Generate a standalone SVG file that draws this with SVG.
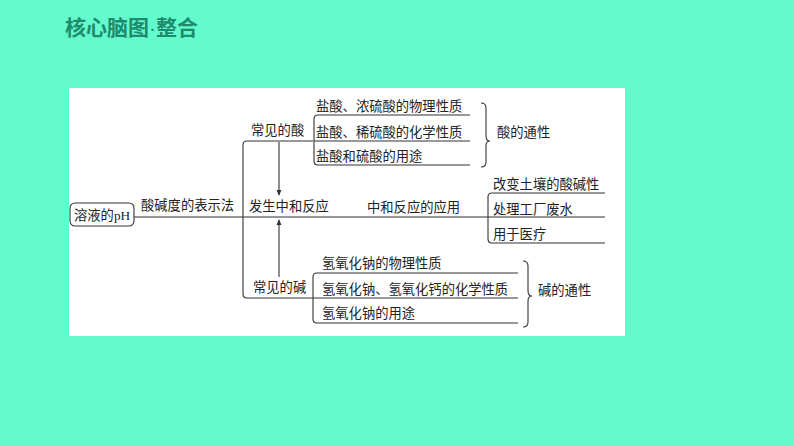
<svg xmlns="http://www.w3.org/2000/svg" width="794" height="446" viewBox="0 0 794 446">
<style>
.t{font-family:"Noto Sans CJK SC","Liberation Serif",serif;font-size:13.3px;fill:#222}
.ln{fill:none;stroke:#333;stroke-width:1.1}
.title{font-family:"Noto Sans CJK SC",sans-serif;font-size:21px;font-weight:bold;fill:#1F8B6E}
</style>
<defs>
<marker id="ah" viewBox="0 0 8 8" refX="7" refY="4" markerWidth="6" markerHeight="6" orient="auto" markerUnits="userSpaceOnUse">
<path d="M0,0.5 L8,4 L0,7.5 Z" fill="#333"/>
</marker>
</defs>
<rect width="794" height="446" fill="#63FBCB"/>
<text class="title" x="65" y="35">核心脑图<tspan font-family="Liberation Sans" font-weight="normal">·</tspan>整合</text>
<rect x="69" y="88" width="556" height="248" fill="#fff"/>

<g id="connectors">
<path class="ln" d="M134 217 H488"/>
<path class="ln" d="M313 141 H247 Q243 141 243 145 V294 Q243 298 247 298 H313"/>
<path class="ln" d="M470 115 H318 Q314 115 314 119 V161 Q314 165 318 165 H470 M314 141 H470"/>
<path class="ln" d="M481 103 Q486 103 486 108 V136 Q486 141 490 141 Q486 141 486 146 V162 Q486 167 481 167"/>
<path class="ln" d="M605 193 H492 Q488 193 488 197 V239 Q488 243 492 243 H605 M488 217 H605"/>
<path class="ln" d="M518 273 H317 Q313 273 313 277 V319 Q313 323 317 323 H518 M313 298 H518"/>
<path class="ln" d="M523 261 Q528 261 528 266 V291 Q528 296 532 296 Q528 296 528 301 V322 Q528 327 523 327"/>
<path class="ln" d="M279 142 V195" marker-end="url(#ah)"/>
<path class="ln" d="M279 277 V220" marker-end="url(#ah)"/>
</g>

<g id="root">
<rect x="70" y="203" width="64" height="23" rx="5" fill="#fff" stroke="#333" stroke-width="1.1"/>
<text class="t" x="74" y="219.5">溶液的<tspan font-family="Liberation Serif">pH</tspan></text>
</g>
<g id="n-biaoshi"><text class="t" x="141" y="210">酸碱度的表示法</text></g>
<g id="n-acid"><text class="t" x="251" y="135">常见的酸</text></g>
<g id="n-zhonghe"><text class="t" x="249" y="211">发生中和反应</text></g>
<g id="n-base"><text class="t" x="253" y="292">常见的碱</text></g>
<g id="n-acid1"><text class="t" x="316" y="111">盐酸、浓硫酸的物理性质</text></g>
<g id="n-acid2"><text class="t" x="316" y="137">盐酸、稀硫酸的化学性质</text></g>
<g id="n-acid3"><text class="t" x="316" y="161">盐酸和硫酸的用途</text></g>
<g id="n-acidgen"><text class="t" x="497" y="137">酸的通性</text></g>
<g id="n-app"><text class="t" x="367" y="212">中和反应的应用</text></g>
<g id="n-app1"><text class="t" x="493" y="189">改变土壤的酸碱性</text></g>
<g id="n-app2"><text class="t" x="493" y="214">处理工厂废水</text></g>
<g id="n-app3"><text class="t" x="493" y="239">用于医疗</text></g>
<g id="n-base1"><text class="t" x="322" y="268">氢氧化钠的物理性质</text></g>
<g id="n-base2"><text class="t" x="322" y="294">氢氧化钠、氢氧化钙的化学性质</text></g>
<g id="n-base3"><text class="t" x="322" y="318">氢氧化钠的用途</text></g>
<g id="n-basegen"><text class="t" x="538" y="295">碱的通性</text></g>
</svg>
